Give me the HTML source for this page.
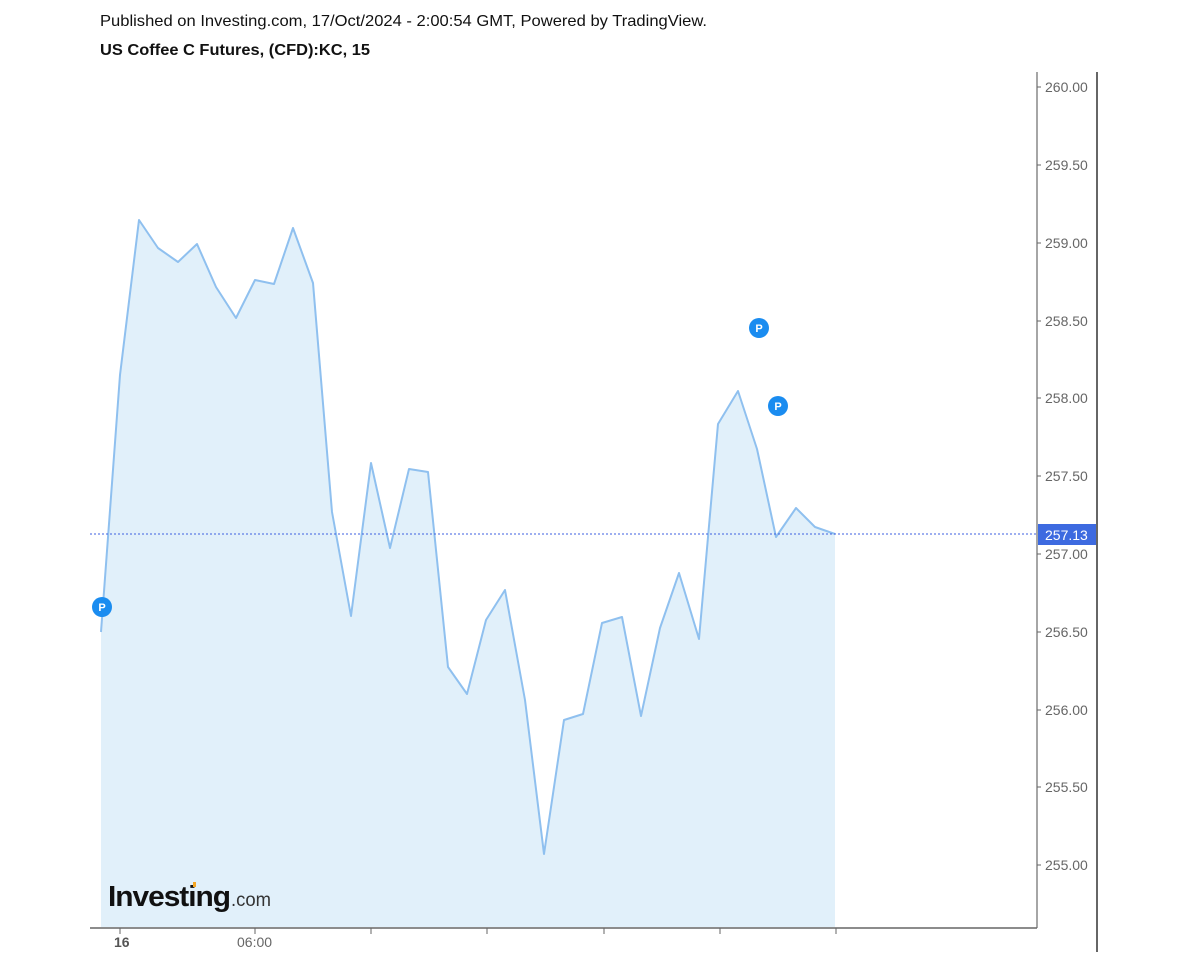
<!DOCTYPE html>
<html><head><style>
body{margin:0;background:#fff;width:1200px;height:960px;overflow:hidden;font-family:"Liberation Sans",Arial,sans-serif}
</style></head><body>
<svg width="1200" height="960" xmlns="http://www.w3.org/2000/svg" style="position:absolute;left:0;top:0">
<text x="100" y="26" font-size="16" fill="#111" textLength="607" lengthAdjust="spacingAndGlyphs">Published on Investing.com, 17/Oct/2024 - 2:00:54 GMT, Powered by TradingView.</text>
<text x="100" y="55" font-size="16" font-weight="bold" fill="#111" textLength="270" lengthAdjust="spacingAndGlyphs">US Coffee C Futures, (CFD):KC, 15</text>
<polygon fill="#e1f0fa" points="101,632 120,375 139,220 158,248 178,262 197,244 216,287 236,318 255,280 274,284 293,228 313,283 332,512 351,616 371,463 390,548 409,469 428,472 448,667 467,694 486,620 505,590 525,700 544,854 564,720 583,714 602,623 622,617 641,716 660,628 679,573 699,639 718,424 738,391 757,449 776,537 796,508 815,527 835,534 835,927 101,927"/>
<polyline fill="none" stroke="#8fc0ef" stroke-width="2" stroke-linejoin="round" points="101,632 120,375 139,220 158,248 178,262 197,244 216,287 236,318 255,280 274,284 293,228 313,283 332,512 351,616 371,463 390,548 409,469 428,472 448,667 467,694 486,620 505,590 525,700 544,854 564,720 583,714 602,623 622,617 641,716 660,628 679,573 699,639 718,424 738,391 757,449 776,537 796,508 815,527 835,534"/>
<line x1="90" y1="534" x2="1037" y2="534" stroke="#3d5fe0" stroke-width="1" stroke-dasharray="2,2"/>
<line x1="1037" y1="72" x2="1037" y2="928" stroke="#888" stroke-width="1.5"/>
<line x1="1097" y1="72" x2="1097" y2="952" stroke="#333" stroke-width="1.5"/>
<line x1="90" y1="928" x2="1037" y2="928" stroke="#666" stroke-width="1.5"/>
<g stroke="#666"><line x1="120" y1="928" x2="120" y2="934"/><line x1="255" y1="928" x2="255" y2="934"/><line x1="371" y1="928" x2="371" y2="934"/><line x1="487" y1="928" x2="487" y2="934"/><line x1="604" y1="928" x2="604" y2="934"/><line x1="720" y1="928" x2="720" y2="934"/><line x1="836" y1="928" x2="836" y2="934"/></g>
<text x="114" y="947" font-size="14" font-weight="bold" fill="#555">16</text>
<text x="237" y="947" font-size="14" fill="#666">06:00</text>
<g font-size="14" fill="#666">
<text x="1045" y="92">260.00</text><text x="1045" y="170">259.50</text><text x="1045" y="248">259.00</text><text x="1045" y="326">258.50</text><text x="1045" y="403">258.00</text><text x="1045" y="481">257.50</text><text x="1045" y="559">257.00</text><text x="1045" y="637">256.50</text><text x="1045" y="715">256.00</text><text x="1045" y="792">255.50</text><text x="1045" y="870">255.00</text>
</g>
<g stroke="#666"><line x1="1037" y1="87" x2="1041" y2="87"/><line x1="1037" y1="165" x2="1041" y2="165"/><line x1="1037" y1="243" x2="1041" y2="243"/><line x1="1037" y1="321" x2="1041" y2="321"/><line x1="1037" y1="398" x2="1041" y2="398"/><line x1="1037" y1="476" x2="1041" y2="476"/><line x1="1037" y1="554" x2="1041" y2="554"/><line x1="1037" y1="632" x2="1041" y2="632"/><line x1="1037" y1="710" x2="1041" y2="710"/><line x1="1037" y1="787" x2="1041" y2="787"/><line x1="1037" y1="865" x2="1041" y2="865"/></g>
<rect x="1038" y="524" width="58" height="21" fill="#3d6ae0"/>
<text x="1045" y="540" font-size="14" fill="#fff">257.13</text>
<g font-size="11" font-weight="bold" fill="#fff" text-anchor="middle">
<circle cx="102" cy="607" r="10" fill="#1a8cf0"/><text x="102" y="611">P</text>
<circle cx="759" cy="328" r="10" fill="#1a8cf0"/><text x="759" y="332">P</text>
<circle cx="778" cy="406" r="10" fill="#1a8cf0"/><text x="778" y="410">P</text>
</g>
<text x="108" y="906" font-size="29" font-weight="bold" fill="#111" letter-spacing="-1" textLength="122" lengthAdjust="spacingAndGlyphs">Investing</text>
<text x="231" y="906" font-size="19" fill="#333" textLength="40" lengthAdjust="spacingAndGlyphs">.com</text>
<rect x="193" y="882" width="3" height="5" fill="#f5a623"/>
</svg>
</body></html>
